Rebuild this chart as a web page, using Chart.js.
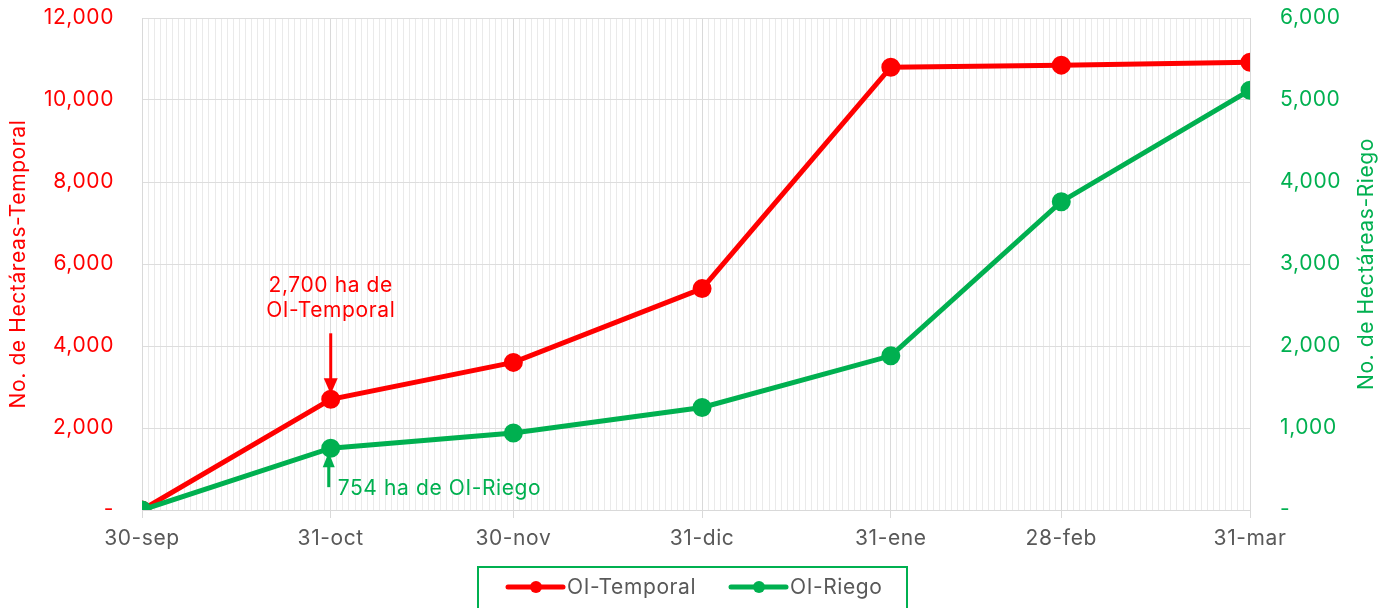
<!DOCTYPE html>
<html>
<head>
<meta charset="utf-8">
<script src="https://cdn.jsdelivr.net/npm/chart.js@4"></script>
<style>
  html, body { margin: 0; padding: 0; background: #fff; }
  #wrap { width: 1385px; height: 608px; }
</style>
</head>
<body>
<div id="wrap"><canvas id="chart" width="1385" height="608"></canvas></div>
<script>
// fechas de corte y dias desde 30-sep
const dateLabels = ['30-sep', '31-oct', '30-nov', '31-dic', '31-ene', '28-feb', '31-mar'];
const dayOffsets = [0, 31, 61, 92, 123, 151, 182];

// hectareas
const temporal = [0, 2700, 3600, 5400, 10800, 10850, 10920];
const riego = [0, 754, 940, 1250, 1880, 3760, 5120];

const RED = '#FF0000';
const GREEN = '#00B050';
const GRAY = '#595959';
const FONT = 'Inter';
const FS = 21;

const toPoints = (vals) => vals.map((v, i) => ({ x: dayOffsets[i], y: v }));
const fmt = (v) => v === 0 ? '-' : v.toLocaleString('en-US');

// wider lettering, closer to the original typeface
const spacingPlugin = {
  id: 'spacing',
  beforeInit(chart) { chart.ctx.letterSpacing = '0.6px'; },
  beforeDraw(chart) { chart.ctx.letterSpacing = '0.6px'; }
};

// arrows + notes near 31-oct, right title, boxed legend at the bottom
const notesPlugin = {
  id: 'notes',
  afterDraw(chart) {
    const ctx = chart.ctx;
    const xs = chart.scales.x, yl = chart.scales.y, yr = chart.scales.y2;
    const area = chart.chartArea;
    ctx.save();
    ctx.font = FS + 'px ' + FONT;

    // red note
    const rx = xs.getPixelForValue(dayOffsets[1]);
    const ry = yl.getPixelForValue(temporal[1]);
    ctx.fillStyle = RED; ctx.strokeStyle = RED; ctx.lineWidth = 3;
    ctx.textAlign = 'center'; ctx.textBaseline = 'middle';
    ctx.fillText('2,700 ha de', rx, ry - 114);
    ctx.fillText('OI-Temporal', rx, ry - 89);
    ctx.beginPath(); ctx.moveTo(rx, ry - 66); ctx.lineTo(rx, ry - 18); ctx.stroke();
    ctx.beginPath(); ctx.moveTo(rx - 7, ry - 21); ctx.lineTo(rx + 7, ry - 21); ctx.lineTo(rx, ry - 5); ctx.closePath(); ctx.fill();

    // green note
    const gx = xs.getPixelForValue(dayOffsets[1]) - 2;
    const gy = yr.getPixelForValue(riego[1]);
    ctx.fillStyle = GREEN; ctx.strokeStyle = GREEN;
    ctx.beginPath(); ctx.moveTo(gx, gy + 39); ctx.lineTo(gx, gy + 16); ctx.stroke();
    ctx.beginPath(); ctx.moveTo(gx - 6, gy + 19); ctx.lineTo(gx + 6, gy + 19); ctx.lineTo(gx, gy + 4); ctx.closePath(); ctx.fill();
    ctx.textAlign = 'left';
    ctx.fillText('754 ha de OI-Riego', gx + 9, gy + 41);

    // right axis title, reading upwards
    ctx.save();
    ctx.translate(1367, (area.top + area.bottom) / 2);
    ctx.rotate(-Math.PI / 2);
    ctx.textAlign = 'center';
    ctx.fillStyle = GREEN;
    ctx.fillText('No. de Hectáreas-Riego', 0, 0);
    ctx.restore();

    // legend
    ctx.strokeStyle = GREEN; ctx.lineWidth = 2;
    ctx.strokeRect(478, 567, 429, 44);
    const items = [
      { label: 'OI-Temporal', color: RED, x: 508 },
      { label: 'OI-Riego', color: GREEN, x: 731 }
    ];
    const ly = 587;
    items.forEach(it => {
      ctx.strokeStyle = it.color; ctx.fillStyle = it.color; ctx.lineWidth = 5; ctx.lineCap = 'round';
      ctx.beginPath(); ctx.moveTo(it.x, ly); ctx.lineTo(it.x + 55, ly); ctx.stroke();
      ctx.beginPath(); ctx.arc(it.x + 28, ly, 6, 0, Math.PI * 2); ctx.fill();
      ctx.fillStyle = GRAY; ctx.textAlign = 'left';
      ctx.fillText(it.label, it.x + 59, ly + 1);
    });
    ctx.restore();
  }
};

new Chart(document.getElementById('chart'), {
  type: 'line',
  data: {
    datasets: [
      {
        label: 'OI-Temporal',
        data: toPoints(temporal),
        yAxisID: 'y',
        order: 1,
        borderColor: RED, backgroundColor: RED,
        borderWidth: 5, pointRadius: 7, pointHoverRadius: 7,
        tension: 0
      },
      {
        label: 'OI-Riego',
        data: toPoints(riego),
        yAxisID: 'y2',
        order: 0,
        borderColor: GREEN, backgroundColor: GREEN,
        borderWidth: 5, pointRadius: 7, pointHoverRadius: 7,
        tension: 0
      }
    ]
  },
  options: {
    responsive: false,
    animation: false,
    layout: { padding: { top: 18, bottom: 0, left: 0, right: 0 } },
    plugins: {
      legend: { display: false },
      tooltip: { enabled: false }
    },
    scales: {
      x: {
        type: 'linear',
        min: 0, max: 182,
        afterBuildTicks: (s) => {
          const t = [];
          for (let d = 0; d <= 182; d++) t.push({ value: d });
          s.ticks = t;
        },
        afterFit: (s) => { s.height = 98; s.paddingLeft = 0; s.paddingRight = 0; },
        ticks: {
          autoSkip: false, maxRotation: 0, padding: 8,
          color: GRAY, font: { family: FONT, size: FS },
          callback: (v) => {
            const i = dayOffsets.indexOf(v);
            return i >= 0 ? dateLabels[i] : '';
          }
        },
        grid: {
          color: (c) => c.tick && dayOffsets.includes(c.tick.value) ? '#D9D9D9' : '#EAEAEA',
          tickColor: (c) => c.tick && dayOffsets.includes(c.tick.value) ? '#D9D9D9' : 'rgba(0,0,0,0)',
          tickLength: 8
        },
        border: { color: '#D9D9D9' }
      },
      y: {
        position: 'left',
        min: 0, max: 12000,
        afterFit: (s) => { s.width = 142; s.paddingTop = 0; s.paddingBottom = 0; },
        ticks: { stepSize: 2000, padding: 28, color: RED, font: { family: FONT, size: FS }, callback: fmt },
        grid: { color: '#DDDDDD', drawTicks: false },
        border: { color: '#D9D9D9' },
        title: { display: true, text: 'No. de Hectáreas-Temporal', color: RED, font: { family: FONT, size: FS }, padding: { top: 6, bottom: 0 } }
      },
      y2: {
        position: 'right',
        min: 0, max: 6000,
        afterFit: (s) => { s.width = 135; s.paddingTop = 0; s.paddingBottom = 0; },
        ticks: { stepSize: 1000, padding: 30, color: GREEN, font: { family: FONT, size: FS }, callback: fmt },
        grid: { display: false, drawTicks: false },
        border: { color: '#D9D9D9' }
      }
    }
  },
  plugins: [spacingPlugin, notesPlugin]
});
</script>
</body>
</html>
